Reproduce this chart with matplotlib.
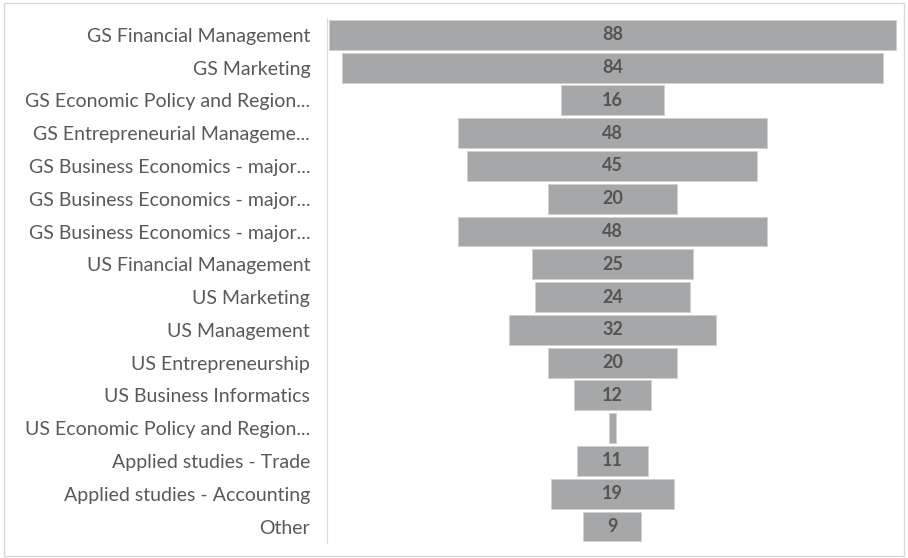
import matplotlib.pyplot as plt
import numpy as np
from matplotlib.patches import Rectangle

plt.rcParams['font.family'] = ['Lato', 'DejaVu Sans']

programmes = [
    "GS Financial Management",
    "GS Marketing",
    "GS Economic Policy and Region...",
    "GS Entrepreneurial Manageme...",
    "GS Business Economics - major...",
    "GS Business Economics - major...",
    "GS Business Economics - major...",
    "US Financial Management",
    "US Marketing",
    "US Management",
    "US Entrepreneurship",
    "US Business Informatics",
    "US Economic Policy and Region...",
    "Applied studies - Trade",
    "Applied studies - Accounting",
    "Other",
]
counts = [88, 84, 16, 48, 45, 20, 48, 25, 24, 32, 20, 12, 1, 11, 19, 9]

BAR = "#A5A7A8"
TEXT = "#595959"

fig = plt.figure(figsize=(9.08, 5.58), dpi=100)
fig.patches.append(Rectangle((0.004, 0.004), 0.992, 0.99, transform=fig.transFigure,
                             fill=False, edgecolor="#D9D9D9", linewidth=1))

ax = fig.add_axes([0.360, 0.027, 0.629, 0.940])
y = np.arange(len(counts))
vals = np.array(counts, dtype=float)
ax.barh(y, vals, left=-vals / 2, height=0.91, color=BAR, edgecolor="#D0D0D0", linewidth=0.6)

# centred value labels (the tiny bar stays unlabelled)
for yi, v in zip(y, counts):
    if v >= 5:
        ax.text(0, yi, str(v), ha="center", va="center", fontsize=13,
                fontweight="bold", color="#545454")

ax.set_yticks(y)
ax.set_yticklabels(programmes, fontsize=14, color=TEXT)
ax.tick_params(axis="y", length=0, pad=12)
ax.set_xticks([])
ax.set_xlim(-44.3, 44.3)
ax.set_ylim(len(counts) - 0.5, -0.5)
for side in ["top", "right", "bottom"]:
    ax.spines[side].set_visible(False)
ax.spines["left"].set_color("#D9D9D9")

fig.savefig("out.png", dpi=100, facecolor="white")
